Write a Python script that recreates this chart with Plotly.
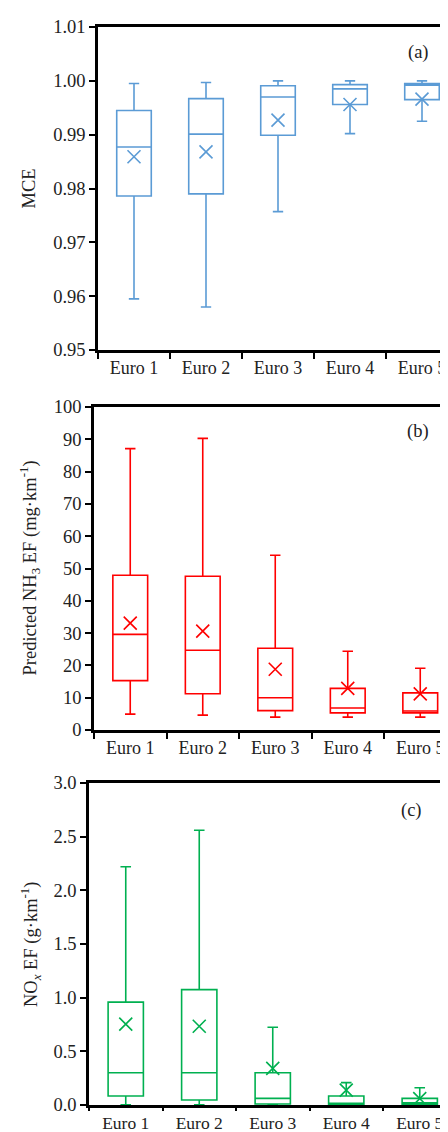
import plotly.graph_objects as go
from plotly.subplots import make_subplots

categories = ["Euro 1", "Euro 2", "Euro 3", "Euro 4", "Euro 5"]

# (a) MCE
mce_lower = [0.9595, 0.9580, 0.9757, 0.9902, 0.9925]
mce_q1 = [0.9786, 0.9790, 0.9899, 0.9956, 0.9965]
mce_median = [0.9877, 0.9901, 0.9970, 0.9985, 0.9992]
mce_q3 = [0.9945, 0.9967, 0.9991, 0.9993, 0.9995]
mce_upper = [0.9995, 0.9997, 1.0000, 1.0000, 1.0000]
mce_mean = [0.9859, 0.9868, 0.9927, 0.9956, 0.9966]

# (b) Predicted NH3 EF (mg/km)
nh3_lower = [4.9, 4.6, 4.0, 4.0, 4.0]
nh3_q1 = [15.3, 11.2, 6.0, 5.3, 5.3]
nh3_median = [29.6, 24.7, 10.0, 6.8, 5.9]
nh3_q3 = [47.9, 47.6, 25.3, 12.9, 11.5]
nh3_upper = [87.1, 90.3, 54.1, 24.4, 19.1]
nh3_mean = [33.1, 30.6, 18.8, 12.9, 11.2]

# (c) NOx EF (g/km)
nox_lower = [0.002, 0.002, 0.002, 0.0, 0.0]
nox_q1 = [0.084, 0.046, 0.01, 0.005, 0.005]
nox_median = [0.30, 0.30, 0.062, 0.015, 0.02]
nox_q3 = [0.958, 1.075, 0.30, 0.084, 0.062]
nox_upper = [2.22, 2.56, 0.725, 0.208, 0.161]
nox_mean = [0.753, 0.734, 0.341, 0.139, 0.06]

W, H = 448, 1132
FONT = "Liberation Serif, Times New Roman, serif"

panels = [
    dict(lo=mce_lower, q1=mce_q1, med=mce_median, q3=mce_q3, up=mce_upper, mean=mce_mean,
         color="#5B9BD5", yrange=[0.95, 1.01], dtick=0.01, fmt=".2f",
         top=19, bottom=342, left=90, spacing=72, xticklen=6, xfont=18,
         title="MCE", tx=20, label="(a)", lx=410, ly=45),
    dict(lo=nh3_lower, q1=nh3_q1, med=nh3_median, q3=nh3_q3, up=nh3_upper, mean=nh3_mean,
         color="#FF0000", yrange=[0, 100], dtick=10, fmt="d",
         top=399, bottom=722, left=86, spacing=72.5, xticklen=6, xfont=18,
         title="Predicted NH<sub>3</sub> EF (mg·km<sup>-1</sup>)", tx=22, label="(b)", lx=410, ly=423),
    dict(lo=nox_lower, q1=nox_q1, med=nox_median, q3=nox_q3, up=nox_upper, mean=nox_mean,
         color="#00B050", yrange=[0, 3.0], dtick=0.5, fmt=".1f",
         top=775, bottom=1097, left=81, spacing=73.5, xticklen=3, xfont=17.5,
         title="NO<sub><i>x</i></sub> EF (g·km<sup>-1</sup>)", tx=22, label="(c)", lx=403, ly=802),
]

fig = make_subplots(rows=3, cols=1)

annotations = []
for i, p in enumerate(panels, start=1):
    fig.add_trace(go.Box(
        x=categories, q1=p["q1"], median=p["med"], q3=p["q3"],
        lowerfence=p["lo"], upperfence=p["up"],
        width=0.48, whiskerwidth=0.3, boxpoints=False,
        line=dict(color=p["color"], width=1.6),
        fillcolor="rgba(0,0,0,0)", showlegend=False, hoverinfo="skip",
    ), row=i, col=1)
    fig.add_trace(go.Scatter(
        x=categories, y=p["mean"], mode="markers",
        marker=dict(symbol="x-thin", size=13, line=dict(color=p["color"], width=1.6)),
        showlegend=False, hoverinfo="skip",
    ), row=i, col=1)

    xa = "xaxis" if i == 1 else f"xaxis{i}"
    ya = "yaxis" if i == 1 else f"yaxis{i}"
    end = -0.5 + (W - p["left"]) / p["spacing"]
    fig.layout[xa].update(
        domain=[p["left"] / W, 1.0], range=[-0.5, end],
        type="category", tickson="boundaries",
        showline=True, linecolor="black", linewidth=2.5, mirror=True,
        ticks="outside", ticklen=p["xticklen"], tickwidth=2, tickcolor="black",
        showgrid=False, zeroline=False, automargin=False,
        tickfont=dict(family=FONT, size=p["xfont"], color="#222"),
    )
    fig.layout[ya].update(
        domain=[1 - p["bottom"] / H, 1 - p["top"] / H], range=p["yrange"],
        dtick=p["dtick"], tick0=0, tickformat=p["fmt"],
        showline=True, linecolor="black", linewidth=2.5,
        ticks="outside", ticklen=6, tickwidth=2, tickcolor="black",
        showgrid=False, zeroline=False, automargin=False,
        tickfont=dict(family=FONT, size=18.5, color="#222"),
    )
    annotations.append(dict(
        text=p["title"], xref="paper", yref="paper",
        x=p["tx"] / W, y=1 - (p["top"] + p["bottom"]) / 2 / H,
        xanchor="center", yanchor="middle", textangle=-90, showarrow=False,
        font=dict(family=FONT, size=18.5, color="#222"),
    ))
    annotations.append(dict(
        text=p["label"], xref="paper", yref="paper",
        x=p["lx"] / W, y=1 - p["ly"] / H,
        xanchor="center", yanchor="middle", showarrow=False,
        font=dict(family=FONT, size=18.5, color="#222"),
    ))

fig.update_layout(
    width=W, height=H,
    margin=dict(l=0, r=0, t=0, b=0),
    paper_bgcolor="white", plot_bgcolor="white",
    annotations=annotations,
    showlegend=False,
    boxmode="overlay",
)

fig.write_html("out.html")
